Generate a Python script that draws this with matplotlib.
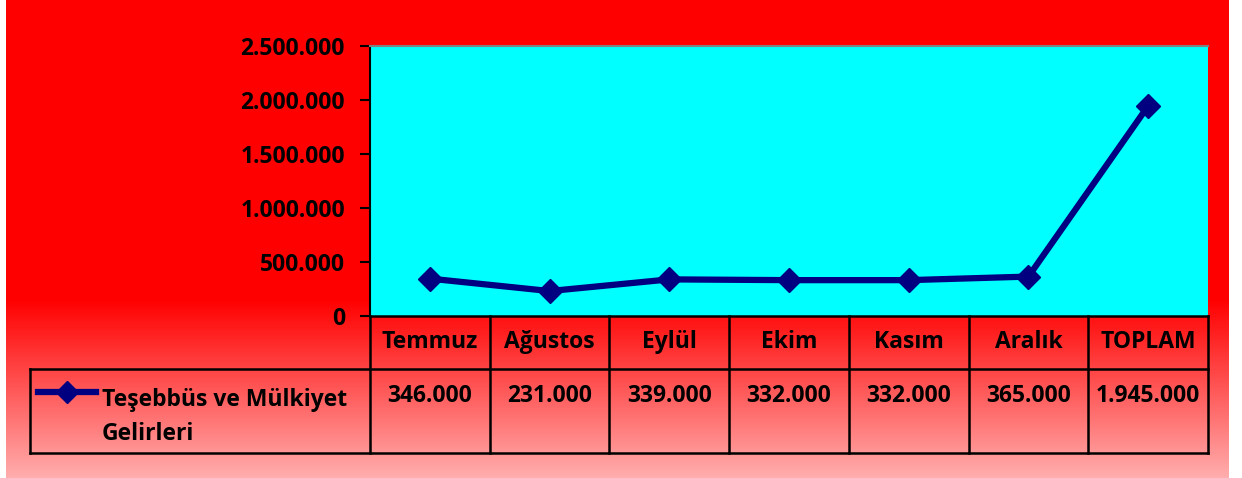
import numpy as np
import matplotlib.pyplot as plt
from matplotlib.transforms import blended_transform_factory
from matplotlib.lines import Line2D

plt.rcParams['font.family'] = ['Open Sans', 'DejaVu Sans']
plt.rcParams['font.weight'] = 'bold'

months = ['Temmuz', 'Ağustos', 'Eylül', 'Ekim', 'Kasım', 'Aralık', 'TOPLAM']
values = [346000, 231000, 339000, 332000, 332000, 365000, 1945000]
value_labels = ['346.000', '231.000', '339.000', '332.000', '332.000', '365.000', '1.945.000']
series_name = 'Teşebbüs ve Mülkiyet\nGelirleri'
yticks = [0, 500000, 1000000, 1500000, 2000000, 2500000]
ytick_labels = ['0', '500.000', '1.000.000', '1.500.000', '2.000.000', '2.500.000']

W, H = 1242, 478
FS = 16.5
fig = plt.figure(figsize=(W / 100, H / 100), dpi=100)
fig.patch.set_facecolor('white')

# background: solid red on top, fades to pink at the bottom
bg = fig.add_axes([6 / W, 0, (1229 - 6) / W, 1], zorder=0)
bg.axis('off')
rows = np.linspace(0, 1, 478)
grad = np.zeros((478, 1, 3))
t = np.clip((rows * 478 - 300) / 178, 0, 1)
grad[:, 0, 0] = 1.0
grad[:, 0, 1] = 0.68 * t
grad[:, 0, 2] = 0.68 * t
bg.imshow(grad, aspect='auto', extent=[0, 1, 1, 0])
bg.set_xlim(0, 1)
bg.set_ylim(1, 0)

# plot area
x0, x1, ytop, ybot = 370, 1208, 46, 316
ax = fig.add_axes([x0 / W, 1 - ybot / H, (x1 - x0) / W, (ybot - ytop) / H], zorder=2)
ax.set_facecolor('#00FFFF')
x = np.arange(len(months))
ax.plot(x, values, color='#000080', lw=4.5, marker='D', ms=12, mec='#000080', clip_on=False)
ax.set_xlim(-0.5, 6.5)
ax.set_ylim(0, 2500000)
ax.set_yticks(yticks)
ax.set_yticklabels(ytick_labels, fontsize=FS, fontweight='bold')
ax.tick_params(axis='y', length=7, width=1.5, pad=11)
ax.set_xticks([])
for s in ['right', 'bottom']:
    ax.spines[s].set_visible(False)
ax.spines['top'].set_color('#808080')
ax.spines['top'].set_linewidth(1.5)
ax.spines['left'].set_linewidth(1.5)

# data table below
tr = blended_transform_factory(ax.transData, ax.transAxes)
hpx = ybot - ytop
y_head = -(369 - ybot) / hpx
y_bot = -(453 - ybot) / hpx
x_leg = -0.5 - (x0 - 30) / ((x1 - x0) / 7)
kw = dict(transform=tr, color='black', lw=1.8, clip_on=False)
ax.plot([-0.5, 6.5], [0, 0], **kw)
ax.plot([x_leg, 6.5], [y_head, y_head], **kw)
ax.plot([x_leg, 6.5], [y_bot, y_bot], **kw)
ax.plot([x_leg, x_leg], [y_head, y_bot], **kw)
for i in range(8):
    ax.plot([i - 0.5, i - 0.5], [0, y_bot], **kw)

for i, m in enumerate(months):
    ax.text(i, y_head / 2, m, transform=tr, ha='center', va='center', fontsize=FS, fontweight='bold')
    ax.text(i, -(396 - ybot) / hpx, value_labels[i], transform=tr, ha='center', va='center',
            fontsize=FS, fontweight='bold')

# legend key inside table
ly = 1 - 392 / H
fig.add_artist(Line2D([38 / W, 96 / W], [ly, ly], color='#000080', lw=4.5, zorder=3))
fig.add_artist(Line2D([67 / W], [ly], color='#000080', marker='D', ms=11, zorder=3))
fig.text(102 / W, 1 - 417 / H, series_name, ha='left', va='center', fontsize=FS,
         fontweight='bold', linespacing=1.6, zorder=3)

fig.savefig('out.png', dpi=100)
